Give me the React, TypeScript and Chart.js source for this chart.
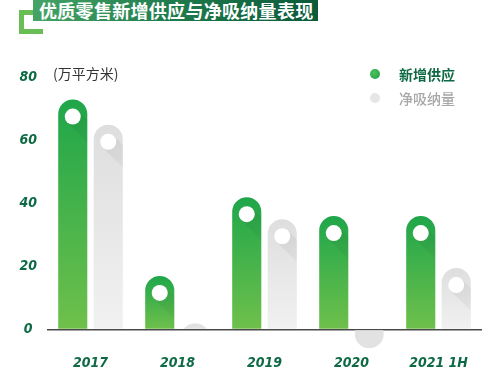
import React, { useEffect, useRef } from "react";
import { Chart, registerables } from "chart.js";

Chart.register(...registerables);

const title = "优质零售新增供应与净吸纳量表现";
const unitLabel = "(万平方米)";
const categories = ["2017", "2018", "2019", "2020", "2021 1H"];
const seriesNames = ["新增供应", "净吸纳量"];
const newSupply = [73, 17, 42, 36, 36];
const netAbsorption = [65, 2, 35, -6, 19.5];
const yTicks = [0, 20, 40, 60, 80];

const GREEN_TOP = "#1fa64a";
const GREEN_BOTTOM = "#6fc04b";
const GRAY_TOP = "#dedede";
const GRAY_BOTTOM = "#f1f1f1";
const DARK_GREEN = "#0e6a45";
const SMALL_BAR = 25;
const NUM_FONT = '"DejaVu Sans Condensed", "Liberation Sans Narrow", "DejaVu Sans", sans-serif';
const CJK_FONT = '"Noto Sans CJK SC", "Noto Sans", sans-serif';

function makeGradient(top: string, bottom: string) {
  return (c: any) => {
    const chart = c.chart;
    if (!chart.chartArea || c.type !== "data") return top;
    const ys = chart.scales.y;
    const v = c.raw as number;
    const p1 = ys.getPixelForValue(v);
    const p0 = ys.getPixelForValue(0);
    if (!isFinite(p1) || !isFinite(p0)) return top;
    if (Math.abs(p1 - p0) < SMALL_BAR) return "rgba(0,0,0,0)";
    const g = chart.ctx.createLinearGradient(0, Math.min(p0, p1), 0, Math.max(p0, p1));
    g.addColorStop(0, top);
    g.addColorStop(1, bottom);
    return g;
  };
}

const markerPlugin = {
  id: "markers",
  afterDatasetsDraw(chart: any) {
    const { ctx } = chart;
    chart.data.datasets.forEach((ds: any, di: number) => {
      const meta = chart.getDatasetMeta(di);
      const topColor = di === 0 ? GREEN_TOP : "#e2e2e2";
      meta.data.forEach((bar: any, i: number) => {
        const v = ds.data[i] as number;
        const { x, y, base, width } = bar.getProps(["x", "y", "base", "width"], true);
        const rr = width / 2;
        const left = x - rr;
        const h = Math.abs(base - y);
        if (h < SMALL_BAR) {
          // small bar: a rounded dome clipped at the base line
          ctx.save();
          ctx.beginPath();
          ctx.rect(left, Math.min(y, base), width, h);
          ctx.clip();
          ctx.beginPath();
          const cy = v >= 0 ? y + rr : y - rr;
          ctx.arc(x, cy, rr, 0, Math.PI * 2);
          ctx.fillStyle = topColor;
          ctx.fill();
          ctx.restore();
          return;
        }
        if (v <= 0) return;
        const cy = y + 17;
        const r = 8;
        ctx.save();
        ctx.beginPath();
        ctx.moveTo(left, base);
        ctx.lineTo(left, y + rr);
        ctx.arc(x, y + rr, rr, Math.PI, 0);
        ctx.lineTo(left + width, base);
        ctx.closePath();
        ctx.clip();
        const d = r / Math.SQRT2;
        const L = 60;
        const g = ctx.createLinearGradient(x, cy, x + L / Math.SQRT2, cy + L / Math.SQRT2);
        g.addColorStop(0, "rgba(0,0,0,0.06)");
        g.addColorStop(1, "rgba(0,0,0,0)");
        ctx.fillStyle = g;
        ctx.beginPath();
        ctx.moveTo(x + d, cy - d);
        ctx.lineTo(x + d + L, cy - d + L);
        ctx.lineTo(x - d + L, cy + d + L);
        ctx.lineTo(x - d, cy + d);
        ctx.closePath();
        ctx.fill();
        ctx.beginPath();
        ctx.arc(x, cy, r, 0, Math.PI * 2);
        ctx.fillStyle = "#ffffff";
        ctx.fill();
        ctx.restore();
      });
    });
  },
};

export default function App() {
  const canvasRef = useRef<HTMLCanvasElement | null>(null);

  useEffect(() => {
    const canvas = canvasRef.current;
    if (!canvas) return;
    const chart = new Chart(canvas, {
      type: "bar",
      data: {
        labels: categories,
        datasets: [
          {
            label: seriesNames[0],
            data: newSupply,
            backgroundColor: makeGradient(GREEN_TOP, GREEN_BOTTOM),
            borderRadius: 15,
            borderSkipped: "start",
            categoryPercentage: 0.816,
            barPercentage: 0.82,
          },
          {
            label: seriesNames[1],
            data: netAbsorption,
            backgroundColor: makeGradient(GRAY_TOP, GRAY_BOTTOM),
            borderRadius: 15,
            borderSkipped: "start",
            categoryPercentage: 0.816,
            barPercentage: 0.82,
          },
        ],
      },
      options: {
        responsive: false,
        animation: false,
        layout: { padding: { top: 77.5, bottom: 0, left: 0, right: 18 } },
        plugins: { legend: { display: false }, tooltip: { enabled: false } },
        scales: {
          x: {
            grid: { display: false },
            border: { display: false },
            ticks: {
              color: DARK_GREEN,
              padding: -5,
              font: { family: NUM_FONT, size: 14, weight: "bold", style: "italic" },
            },
            afterFit: (s: any) => {
              s.height = 39.5;
            },
          },
          y: {
            min: -7,
            max: 80,
            z: 1,
            border: { display: false },
            grid: {
              drawTicks: false,
              color: (c: any) => (c.tick && c.tick.value === 0 ? "#4a4a4a" : "rgba(0,0,0,0)"),
              lineWidth: (c: any) => (c.tick && c.tick.value === 0 ? 1.6 : 0),
            },
            ticks: {
              color: DARK_GREEN,
              padding: 10,
              crossAlign: "center",
              font: { family: NUM_FONT, size: 14, weight: "bold", style: "italic" },
            },
            afterBuildTicks: (s: any) => {
              s.ticks = yTicks.map((v) => ({ value: v }));
            },
            afterFit: (s: any) => {
              s.width = 47;
            },
          },
        },
      },
      plugins: [markerPlugin],
    } as any);
    return () => chart.destroy();
  }, []);

  return (
    <div
      style={{
        position: "fixed",
        left: 0,
        top: 0,
        width: 500,
        height: 391,
        background: "#ffffff",
        overflow: "hidden",
      }}
    >
      <div
        style={{
          position: "absolute",
          left: 19,
          top: 10,
          width: 19,
          height: 14,
          borderLeft: "5px solid #68bd55",
          borderTop: "5px solid #68bd55",
          borderBottom: "5px solid #68bd55",
        }}
      />
      <div
        style={{
          position: "absolute",
          left: 33,
          top: 0,
          width: 285,
          height: 21,
          background: "linear-gradient(90deg, #45a465 0%, #1f7a4c 50%, #0b5a3a 100%)",
          color: "#ffffff",
          fontFamily: CJK_FONT,
          fontWeight: 700,
          fontSize: 18,
          lineHeight: "21px",
          paddingLeft: 6,
          boxSizing: "border-box",
          whiteSpace: "nowrap",
          letterSpacing: 0.3,
        }}
      >
        {title}
      </div>
      <canvas
        ref={canvasRef}
        width={500}
        height={391}
        style={{ position: "absolute", left: 0, top: 0, width: 500, height: 391 }}
      />
      <div
        style={{
          position: "absolute",
          left: 53,
          top: 63,
          fontFamily: CJK_FONT,
          fontSize: 14,
          lineHeight: "20px",
          color: "#333333",
          whiteSpace: "nowrap",
        }}
      >
        {unitLabel}
      </div>
      {[0, 1].map((k) => (
        <div
          key={k}
          style={{
            position: "absolute",
            left: 370,
            top: 64 + k * 24,
            height: 20,
            display: "flex",
            alignItems: "center",
            whiteSpace: "nowrap",
          }}
        >
          <div
            style={{
              width: 10,
              height: 10,
              borderRadius: 5,
              background: k === 0 ? "radial-gradient(circle at 40% 40%, #4cc35a, #1f9a45)" : "#e6e6e6",
              marginRight: 19,
            }}
          />
          <span
            style={{
              fontFamily: CJK_FONT,
              fontSize: 14,
              fontWeight: k === 0 ? 700 : 500,
              color: k === 0 ? DARK_GREEN : "#a8a8a8",
              lineHeight: "20px",
            }}
          >
            {seriesNames[k]}
          </span>
        </div>
      ))}
    </div>
  );
}
